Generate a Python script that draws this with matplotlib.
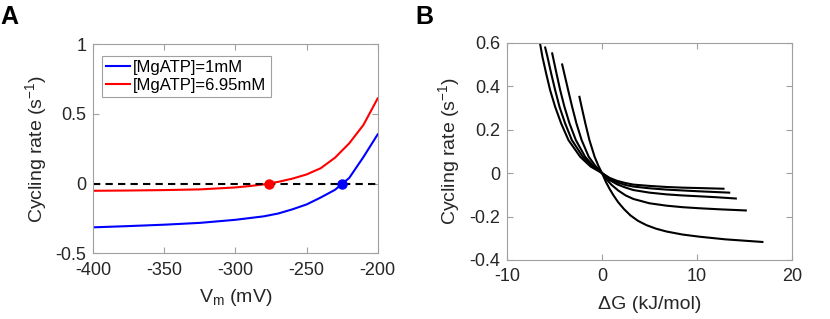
import numpy as np
import matplotlib
matplotlib.use("Agg")
import matplotlib.pyplot as plt
from matplotlib.ticker import FuncFormatter

plt.rcParams['font.family'] = ['Liberation Sans', 'DejaVu Sans']
plt.rcParams['axes.unicode_minus'] = False
plt.rcParams['mathtext.fontset'] = 'custom'
plt.rcParams['mathtext.rm'] = 'Liberation Sans'
plt.rcParams['mathtext.it'] = 'Liberation Sans'

# panel A: cycling rate vs membrane potential
vm_blue = [-400, -375, -350, -325, -300, -280, -270, -260, -250, -240, -230, -220, -210, -200]
rate_blue = [-0.314, -0.305, -0.295, -0.282, -0.26, -0.235, -0.215, -0.185, -0.15, -0.1, -0.045, 0.04, 0.19, 0.352]
vm_red = [-400, -375, -350, -325, -300, -290, -280, -270, -260, -250, -240, -230, -220, -210, -200]
rate_red = [-0.052, -0.05, -0.047, -0.042, -0.028, -0.018, -0.006, 0.012, 0.035, 0.065, 0.11, 0.185, 0.288, 0.42, 0.61]
zero_blue = -225
zero_red = -276.5
labels = ['[MgATP]=1mM', '[MgATP]=6.95mM']

# panel B: cycling rate vs dG, five curves
dg1 = [-6.52, -6.28, -5.89, -5.47, -4.94, -4.31, -3.54, -2.3, -1.2, 0, 0.8, 1.6, 2.5, 3.3, 5.0, 6.8, 8.5, 10.3, 12.8]
r1 = [0.594, 0.535, 0.459, 0.382, 0.305, 0.229, 0.152, 0.075, 0.03, 0, -0.022, -0.036, -0.046, -0.053, -0.059, -0.064, -0.067, -0.069, -0.072]
dg2 = [-5.99, -5.75, -5.36, -4.94, -4.48, -3.89, -3.18, -2.02, -1.0, 0, 0.8, 1.6, 2.5, 3.3, 5.0, 6.8, 8.5, 10.3, 13.4]
r2 = [0.578, 0.535, 0.459, 0.382, 0.305, 0.229, 0.152, 0.075, 0.031, 0, -0.027, -0.043, -0.055, -0.062, -0.07, -0.076, -0.08, -0.084, -0.09]
dg3 = [-5.25, -4.80, -4.41, -3.96, -3.43, -2.76, -1.78, -0.9, 0, 0.8, 1.6, 2.5, 3.3, 5.0, 6.8, 8.5, 10.3, 12.0, 14.1]
r3 = [0.551, 0.459, 0.382, 0.305, 0.229, 0.152, 0.075, 0.032, 0, -0.032, -0.052, -0.067, -0.078, -0.09, -0.098, -0.103, -0.107, -0.111, -0.117]
dg4 = [-4.2, -3.98, -3.57, -3.15, -2.7, -2.15, -1.4, -0.72, 0, 0.5, 1.0, 1.7, 2.5, 3.3, 5.0, 6.8, 8.5, 10.3, 12.5, 15.15]
r4 = [0.5, 0.459, 0.382, 0.305, 0.229, 0.152, 0.075, 0.034, 0, -0.03, -0.054, -0.08, -0.103, -0.119, -0.139, -0.15, -0.157, -0.162, -0.167, -0.172]
dg5 = [-2.38, -2.15, -1.76, -1.33, -0.78, -0.4, 0, 0.4, 0.8, 1.2, 1.7, 2.3, 3.0, 3.8, 4.7, 5.7, 6.8, 8.5, 10.3, 13.0, 16.9]
r5 = [0.351, 0.305, 0.229, 0.152, 0.075, 0.035, 0, -0.04, -0.073, -0.102, -0.134, -0.165, -0.195, -0.22, -0.24, -0.256, -0.269, -0.283, -0.293, -0.305, -0.317]

fig = plt.figure(figsize=(8.3, 3.19), dpi=100)

tick_col = '#262626'
spine_col = '#a0a0a0'


def style(ax):
    for s in ax.spines.values():
        s.set_color(spine_col)
        s.set_linewidth(0.8)
    ax.tick_params(direction='in', top=True, right=True, length=4, width=0.8,
                   color=spine_col, labelcolor=tick_col, labelsize=13)
    ax.tick_params(axis='x', pad=6)
    ax.tick_params(axis='y', pad=5)


axA = fig.add_axes([0.1124, 0.206, 0.3426, 0.656])
axA.plot(vm_blue, rate_blue, color='#0000ff', lw=1.5, label=labels[0])
axA.plot(vm_red, rate_red, color='#ff0000', lw=1.5, label=labels[1])
axA.plot([-400, -200], [0, 0], 'k--', lw=1.5, dashes=(3.5, 2.5))
axA.plot([zero_blue], [0], 'o', color='#0000ff', ms=6.5)
axA.plot([zero_red], [0], 'o', color='#ff0000', ms=6.5)
axA.set_xlim(-400, -200)
axA.set_ylim(-0.5, 1)
axA.set_xticks([-400, -350, -300, -250, -200])
axA.set_yticks([-0.5, 0, 0.5, 1])
axA.yaxis.set_major_formatter(FuncFormatter(lambda v, p: '%g' % v))
axA.set_xlabel('V$_\\mathrm{m}$ (mV)', fontsize=14, color=tick_col, labelpad=6)
axA.set_ylabel('Cycling rate (s$^{-1}$)', fontsize=14, color=tick_col, labelpad=5)
style(axA)
leg = axA.legend(loc='upper left', fontsize=12, handlelength=1.4, handletextpad=0.2,
                 borderpad=0.25, labelspacing=0.2, fancybox=False, framealpha=1,
                 bbox_to_anchor=(0.02, 0.96), borderaxespad=0.2)
leg.get_frame().set_edgecolor(spine_col)
leg.get_frame().set_linewidth(0.8)

axB = fig.add_axes([0.611, 0.185, 0.343, 0.681])
for dg, r in [(dg1, r1), (dg2, r2), (dg3, r3), (dg4, r4), (dg5, r5)]:
    axB.plot(dg, r, color='k', lw=1.5)
axB.set_xlim(-10, 20)
axB.set_ylim(-0.4, 0.6)
axB.set_xticks([-10, 0, 10, 20])
axB.set_yticks([-0.4, -0.2, 0, 0.2, 0.4, 0.6])
axB.yaxis.set_major_formatter(FuncFormatter(lambda v, p: '%g' % round(v, 2)))
axB.set_xlabel('\u0394G (kJ/mol)', fontsize=14, color=tick_col, labelpad=8)
axB.set_ylabel('Cycling rate (s$^{-1}$)', fontsize=14, color=tick_col, labelpad=5)
style(axB)

fig.text(0.0, 0.985, 'A', fontsize=18, fontweight='bold', va='top', ha='left')
fig.text(0.5, 0.985, 'B', fontsize=18, fontweight='bold', va='top', ha='left')

fig.savefig('out.png', dpi=100)
